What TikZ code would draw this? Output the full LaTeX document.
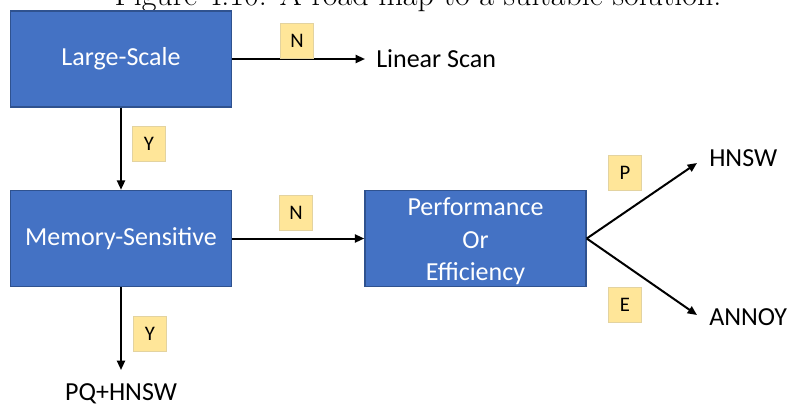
\documentclass[tikz,border=0pt]{standalone}
\usepackage{fontspec}
\setmainfont{Carlito}
\newfontfamily\capfont{Latin Modern Roman}
\usetikzlibrary{arrows.meta}
\definecolor{boxblue}{HTML}{4472C4}
\definecolor{boxedge}{HTML}{2F528F}
\definecolor{tagfill}{HTML}{FFE699}
\definecolor{tagedge}{HTML}{E3D3A0}
\begin{document}
\begin{tikzpicture}[x=0.75pt,y=-0.75pt,
  stepbox/.style={draw=boxedge,line width=1.1pt,fill=boxblue,text=white,
    minimum width=165.75pt,minimum height=72pt,align=center,
    font=\fontsize{19.5}{24.5}\selectfont,inner sep=0pt},
  tagbox/.style={draw=tagedge,line width=0.5pt,fill=tagfill,
    minimum width=24.75pt,minimum height=26.25pt,inner sep=0pt,
    font=\fontsize{15.5}{18}\selectfont},
  outtext/.style={font=\fontsize{19.5}{23}\selectfont,inner sep=0pt},
  link/.style={line width=1.5pt,-{Triangle[length=7pt,width=6pt]}}]
\useasboundingbox (0,0) rectangle (792,412);
% caption, cut by the page edge
\node[anchor=base,inner sep=0pt,font=\capfont\fontsize{24}{28}\selectfont] (cap) at (418,5)
  {Figure 4.10: A road map to a suitable solution.};
% decision boxes
\node[stepbox] (ls) at (121,59) {Large-Scale};
\node[stepbox] (ms) at (121,238.5) {Memory-Sensitive};
\node[stepbox] (pe) at (475.5,238.5) {};
\node[text=white,align=center,font=\fontsize{19.5}{24.5}\selectfont,inner sep=0pt]
  (petext) at (475.5,241.5) {Performance\\Or\\Efficiency};
% outcomes
\node[outtext,anchor=west] (lin) at (376,59) {Linear Scan};
\node[outtext,anchor=west] (hnsw) at (709,158) {HNSW};
\node[outtext,anchor=west] (annoy) at (709,317) {ANNOY};
\node[outtext,anchor=base] (pq) at (121,400) {PQ+HNSW};
% arrow tips
\coordinate (linTip) at (365,59);
\coordinate (hnswTip) at (697,163);
\coordinate (annoyTip) at (697,315);
\coordinate (pqTip) at (121,370);
% connectors
\draw[link] (ls.east) -- (linTip);
\draw[link] (ls.south) -- (ms.north);
\draw[link] (ms.east) -- (pe.west);
\draw[link] (ms.south) -- (pqTip);
\draw[link] (pe.east) -- (hnswTip);
\draw[link] (pe.east) -- (annoyTip);
% branch tags
\node[tagbox] (n1) at (297,41) {N};
\node[tagbox] (y1) at (149,144) {Y};
\node[tagbox] (n2) at (296,213) {N};
\node[tagbox] (p) at (625,173) {P};
\node[tagbox] (e) at (625,305) {E};
\node[tagbox] (y2) at (150,334) {Y};
\end{tikzpicture}
\end{document}
